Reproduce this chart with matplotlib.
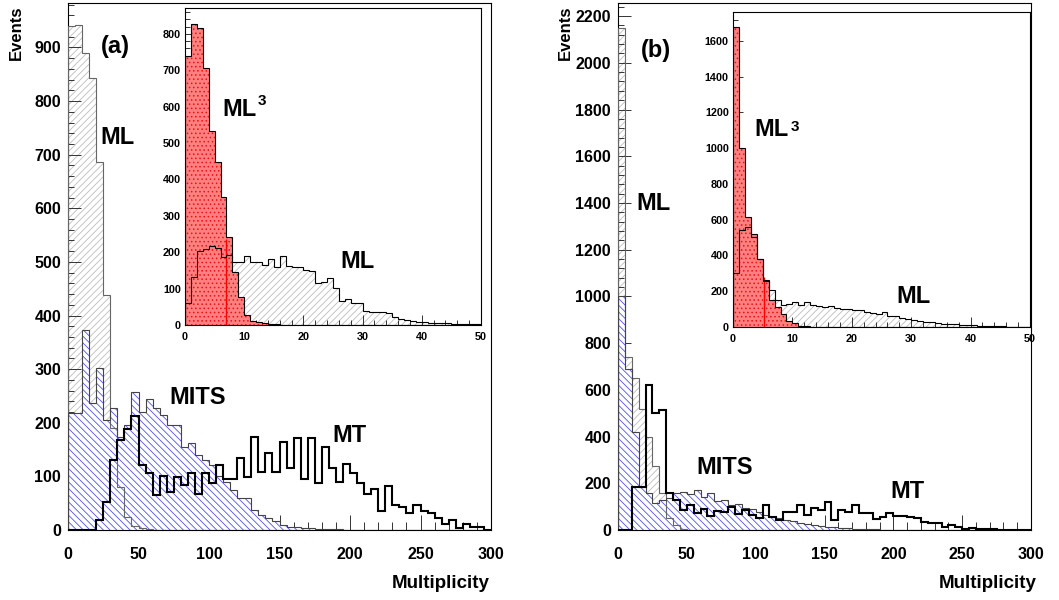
import numpy as np
import matplotlib
matplotlib.use("Agg")
import matplotlib.pyplot as plt
from matplotlib.ticker import MultipleLocator

W, H, DPI = 1059, 600, 100

plt.rcParams['font.family'] = ['Liberation Sans', 'DejaVu Sans']
plt.rcParams['font.weight'] = 'bold'
plt.rcParams['hatch.linewidth'] = 0.6

# ---- data: main panels, 60 bins of width 5 (0..300) ----
edges_main = np.arange(0, 301, 5)

ml_a = [940, 942, 890, 844, 686, 438, 190, 80, 25, 8, 3, 1,
        0, 0, 0, 0, 0, 0, 0, 0, 0, 0, 0, 0, 0, 0, 0, 0, 0, 0,
        0, 0, 0, 0, 0, 0, 0, 0, 0, 0, 0, 0, 0, 0, 0, 0, 0, 0,
        0, 0, 0, 0, 0, 0, 0, 0, 0, 0, 0, 0]
mits_a = [218, 218, 373, 236, 302, 205, 227, 174, 196, 258,
          221, 244, 227, 215, 196, 196, 155, 163, 140, 131,
          121, 100, 90, 75, 59, 59, 37, 28, 22, 16,
          10, 6, 5, 4, 3, 2, 1, 1, 1, 0,
          0, 0, 0, 0, 0, 0, 0, 0, 0, 0,
          0, 0, 0, 0, 0, 0, 0, 0, 0, 0]
mt_a = [0, 0, 0, 0, 19, 53, 131, 168, 188, 212,
        122, 106, 65, 100, 71, 98, 84, 106, 68, 106,
        87, 121, 96, 96, 134, 99, 174, 109, 143, 109,
        165, 115, 172, 96, 172, 87, 155, 115, 90, 124,
        106, 87, 68, 77, 36, 82, 47, 43, 31, 46,
        35, 31, 23, 12, 19, 3, 12, 6, 6, 0]

ml_b = [2150, 742, 650, 520, 400, 275, 160, 52, 20, 5, 2, 1,
        0, 0, 0, 0, 0, 0, 0, 0, 0, 0, 0, 0, 0, 0, 0, 0, 0, 0,
        0, 0, 0, 0, 0, 0, 0, 0, 0, 0, 0, 0, 0, 0, 0, 0, 0, 0,
        0, 0, 0, 0, 0, 0, 0, 0, 0, 0, 0, 0]
mits_b = [1000, 690, 421, 185, 157, 114, 128, 135, 157, 164,
          155, 171, 140, 157, 125, 130, 105, 110, 95, 88,
          75, 64, 55, 50, 43, 38, 30, 25, 21, 18,
          14, 12, 10, 8, 6, 5, 4, 3, 2, 2,
          1, 1, 0, 0, 0, 0, 0, 0, 0, 0,
          0, 0, 0, 0, 0, 0, 0, 0, 0, 0]
mt_b = [0, 0, 185, 185, 620, 500, 515, 160, 128, 86,
        107, 71, 92, 60, 80, 75, 100, 70, 85, 64,
        50, 107, 57, 43, 79, 79, 107, 64, 96, 86,
        121, 43, 86, 79, 109, 71, 71, 45, 57, 71,
        60, 60, 55, 50, 36, 29, 32, 14, 20, 14,
        5, 10, 5, 3, 3, 2, 2, 1, 1, 0]

# ---- data: insets, 50 bins of width 1 (0..50) ----
edges_inset = np.arange(0, 51, 1)

ml_a_in = [60, 133, 204, 208, 218, 211, 188, 192, 174, 174,
           190, 174, 174, 165, 180, 160, 190, 163, 160, 158,
           151, 147, 115, 119, 128, 101, 66, 71, 60, 60,
           39, 37, 35, 37, 32, 23, 16, 14, 12, 9,
           7, 6, 5, 5, 5, 3, 2, 2, 2, 2]
ml3_a_in = [738, 828, 816, 706, 532, 447, 351, 241, 145, 78,
            27, 11, 9, 5, 3, 2, 1, 1, 0, 0,
            0, 0, 0, 0, 0, 0, 0, 0, 0, 0,
            0, 0, 0, 0, 0, 0, 0, 0, 0, 0,
            0, 0, 0, 0, 0, 0, 0, 0, 0, 0]

ml_b_in = [300, 541, 560, 504, 383, 265, 205, 149, 121, 131,
           140, 125, 140, 125, 120, 110, 120, 105, 100, 100,
           95, 95, 85, 80, 70, 85, 60, 60, 50, 45,
           40, 35, 30, 28, 20, 18, 15, 15, 12, 10,
           10, 5, 5, 4, 3, 3, 2, 2, 1, 1]
ml3_b_in = [1680, 999, 616, 520, 380, 260, 150, 110, 70, 35,
            20, 8, 4, 2, 1, 1, 0, 0, 0, 0,
            0, 0, 0, 0, 0, 0, 0, 0, 0, 0,
            0, 0, 0, 0, 0, 0, 0, 0, 0, 0,
            0, 0, 0, 0, 0, 0, 0, 0, 0, 0]

# mean marker (red vertical line) in insets: x, height
mean_a = (6.9, 235)
mean_b = (5.3, 280)


def px_rect(left, top, right, bottom):
    # pixel box -> figure fraction rect
    return [left / W, 1 - bottom / H, (right - left) / W, (bottom - top) / H]


def style_axes(ax, xmax, ymax, xmaj, xmin, ymaj, ymin, size, xlen, ylen, xpad, ypad):
    ax.set_xlim(0, xmax)
    ax.set_ylim(0, ymax)
    ax.xaxis.set_major_locator(MultipleLocator(xmaj))
    ax.xaxis.set_minor_locator(MultipleLocator(xmin))
    ax.yaxis.set_major_locator(MultipleLocator(ymaj))
    ax.yaxis.set_minor_locator(MultipleLocator(ymin))
    ax.tick_params(which='both', direction='in', top=False, right=False,
                   labelsize=size, width=0.7, color='#333333')
    ax.tick_params(axis='x', which='major', length=xlen, pad=xpad)
    ax.tick_params(axis='x', which='minor', length=xlen * 0.5)
    ax.tick_params(axis='y', which='major', length=ylen, pad=ypad)
    ax.tick_params(axis='y', which='minor', length=ylen * 0.5)
    for sp in ax.spines.values():
        sp.set_linewidth(0.8)
    for lab in ax.get_xticklabels() + ax.get_yticklabels():
        lab.set_fontweight('bold')


def fill_hist(ax, values, edges, hatch, hcolor, face='white', z=1):
    ax.stairs(values, edges, fill=True, facecolor=face, edgecolor=hcolor,
              hatch=hatch, linewidth=0, zorder=z)


def line_hist(ax, values, edges, color, lw, z=5):
    ax.stairs(values, edges, fill=False, color=color, linewidth=lw, zorder=z)


def draw_main(rect, ml, mits, mt, ymax, ymaj, ymin):
    ax = fig.add_axes(px_rect(*rect))
    fill_hist(ax, ml, edges_main, '/////', '#bdbdbd', z=1)
    fill_hist(ax, mits, edges_main, '\\\\\\\\\\', '#5050ff', z=2)
    line_hist(ax, ml, edges_main, '#666666', 0.8, z=3)
    line_hist(ax, mits, edges_main, '#444444', 0.8, z=3)
    line_hist(ax, mt, edges_main, 'black', 1.5, z=4)
    style_axes(ax, 300, ymax, 50, 10, ymaj, ymin, 11.5, 11, 9, 12, 5)
    return ax


def draw_inset(rect, ml, ml3, mean, ymax, ymaj, ymin):
    ax = fig.add_axes(px_rect(*rect))
    ax.set_facecolor('white')
    fill_hist(ax, ml, edges_inset, '/////', '#bdbdbd', z=1)
    fill_hist(ax, ml3, edges_inset, '....', '#ee1111', face='#ff8080', z=2)
    ax.vlines(mean[0], 0, mean[1], color='red', linewidth=1.0, zorder=3)
    line_hist(ax, ml, edges_inset, 'black', 0.8, z=4)
    line_hist(ax, ml3, edges_inset, 'black', 0.8, z=4)
    style_axes(ax, 50, ymax, 10, 2, ymaj, ymin, 7.8, 7, 7, 5, 3)
    return ax


def ftext(x, y, s, size=17, **kw):
    fig.text(x / W, 1 - y / H, s, fontsize=size, fontweight='bold', **kw)


fig = plt.figure(figsize=(W / DPI, H / DPI), dpi=DPI)

# panel (a)
draw_main((68, 3, 491, 530), ml_a, mits_a, mt_a, 983, 100, 20)
draw_inset((185, 8, 481, 325), ml_a_in, ml3_a_in, mean_a, 871, 100, 20)

# panel (b)
draw_main((618, 3, 1031, 530), ml_b, mits_b, mt_b, 2256, 200, 40)
draw_inset((733, 12, 1030, 327), ml_b_in, ml3_b_in, mean_b, 1762, 200, 40)

# labels panel (a)
ftext(115, 46, '(a)', ha='center', va='center')
ftext(117, 138, 'ML', ha='center', va='center')
ftext(198, 398, 'MITS', ha='center', va='center')
ftext(349, 436, 'MT', ha='center', va='center')
ftext(240, 109, 'ML', ha='center', va='center')
ftext(258, 101, '3', size=11, ha='left', va='center')
ftext(358, 261, 'ML', ha='center', va='center')

# labels panel (b)
ftext(656, 50, '(b)', ha='center', va='center')
ftext(654, 203, 'ML', ha='center', va='center')
ftext(725, 467, 'MITS', ha='center', va='center')
ftext(907, 491, 'MT', ha='center', va='center')
ftext(772, 130, 'ML', ha='center', va='center')
ftext(791, 127, '3', size=11, ha='left', va='center')
ftext(914, 296, 'ML', ha='center', va='center')

# axis titles
for xe, xm in [(16, 490), (565, 1037)]:
    ftext(xe, 5, 'Events', size=12, rotation=90, ha='center', va='top')
    ftext(xm, 583, 'Multiplicity', size=13.5, ha='right', va='center')

fig.savefig('out.png', dpi=DPI, facecolor='white')
